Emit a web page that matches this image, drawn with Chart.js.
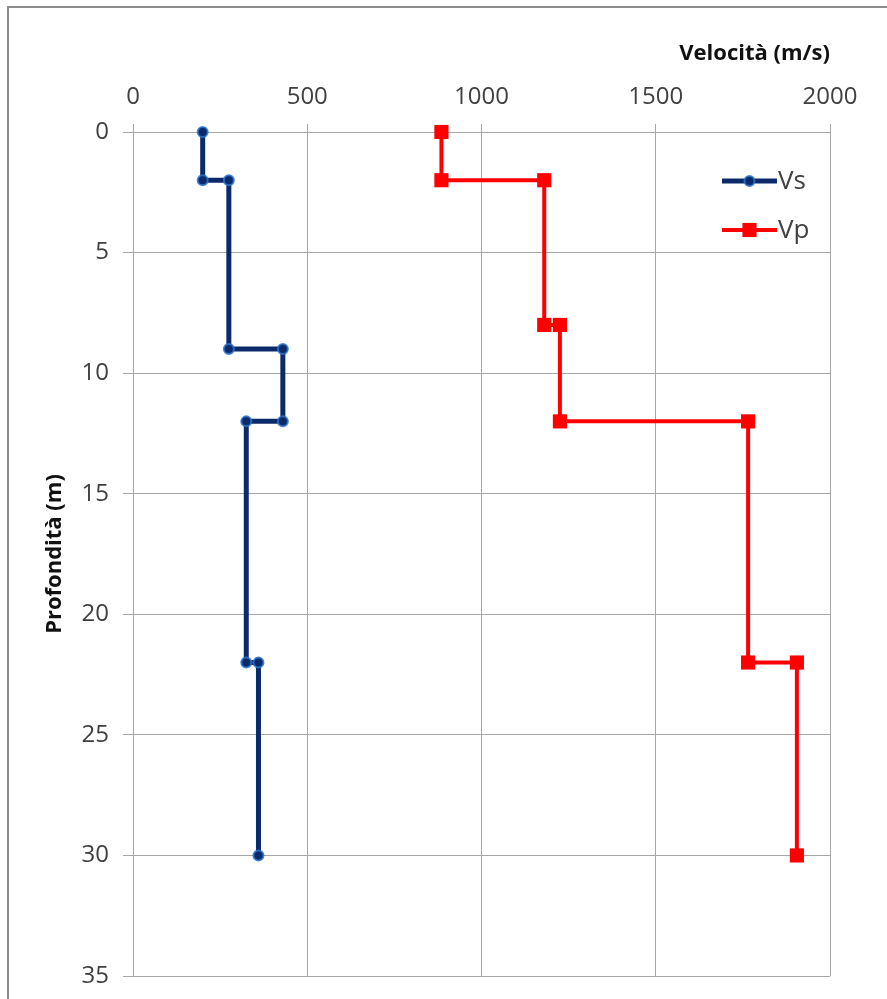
<!DOCTYPE html>
<html>
<head>
<meta charset="utf-8">
<script src="https://cdn.jsdelivr.net/npm/chart.js@4/dist/chart.umd.min.js"></script>
<style>
  html, body { margin: 0; padding: 0; background: #fff; }
  #wrap { position: relative; width: 887px; height: 999px; }
</style>
</head>
<body>
<div id="wrap"><canvas id="c" width="887" height="999"></canvas></div>
<script>
// ---- Data ----
const seriesNames = ['Vs', 'Vp'];
const vsDepth = [0, 2, 2, 9, 9, 12, 12, 22, 22, 30];
const vsVelocity = [200, 200, 275, 275, 430, 430, 325, 325, 360, 360];
const vpDepth = [0, 2, 2, 8, 8, 12, 12, 22, 22, 30];
const vpVelocity = [885, 885, 1180, 1180, 1225, 1225, 1765, 1765, 1905, 1905];
const xTickValues = [0, 500, 1000, 1500, 2000];
const yTickValues = [0, 5, 10, 15, 20, 25, 30, 35];
const xTitle = 'Velocità (m/s)';
const yTitle = 'Profondità (m)';

const toPoints = (xs, ys) => xs.map((x, i) => ({ x: x, y: ys[i] }));

const FONT = "'Open Sans', 'Liberation Sans', sans-serif";
const GRID = '#a6a6a6';
const TXT = '#404040';

const frame = {
  id: 'frame',
  beforeDraw(chart) {
    const ctx = chart.ctx;
    ctx.save();
    ctx.fillStyle = '#fff';
    ctx.fillRect(0, 0, chart.width, chart.height);
    ctx.strokeStyle = '#8c8c8c';
    ctx.lineWidth = 2;
    ctx.beginPath();
    ctx.moveTo(8, chart.height);
    ctx.lineTo(8, 7);
    ctx.lineTo(chart.width, 7);
    ctx.stroke();
    ctx.restore();
  }
};

const insideLegend = {
  id: 'insideLegend',
  afterDatasetsDraw(chart) {
    const ctx = chart.ctx;
    const x0 = 722, x1 = 777;
    const ys = [181, 230];
    ctx.save();
    chart.data.datasets.forEach((ds, i) => {
      const y = ys[i];
      ctx.strokeStyle = ds.borderColor;
      ctx.lineWidth = ds.borderWidth;
      ctx.beginPath();
      ctx.moveTo(x0, y);
      ctx.lineTo(x1, y);
      ctx.stroke();
      const cx = (x0 + x1) / 2;
      if (ds.pointStyle === 'rect') {
        const s = ds.pointRadius * Math.SQRT1_2;
        ctx.fillStyle = ds.pointBackgroundColor;
        ctx.fillRect(cx - s, y - s, 2 * s, 2 * s);
      } else {
        ctx.beginPath();
        ctx.arc(cx, y, ds.pointRadius, 0, Math.PI * 2);
        ctx.fillStyle = ds.pointBackgroundColor;
        ctx.fill();
        ctx.lineWidth = ds.pointBorderWidth;
        ctx.strokeStyle = ds.pointBorderColor;
        ctx.stroke();
      }
      ctx.fillStyle = TXT;
      ctx.font = '26px ' + FONT;
      ctx.textAlign = 'left';
      ctx.textBaseline = 'middle';
      ctx.fillText(ds.label, x1 + 1, y + 1);
    });
    ctx.restore();
  }
};

new Chart(document.getElementById('c'), {
  type: 'scatter',
  data: {
    datasets: [
      {
        label: seriesNames[0],
        data: toPoints(vsVelocity, vsDepth),
        showLine: true,
        clip: false,
        borderColor: '#0b2a6a',
        borderWidth: 5,
        pointStyle: 'circle',
        pointRadius: 5,
        pointBackgroundColor: '#0b2a6a',
        pointBorderColor: 'rgba(45,115,205,0.85)',
        pointBorderWidth: 2
      },
      {
        label: seriesNames[1],
        data: toPoints(vpVelocity, vpDepth),
        showLine: true,
        clip: false,
        borderColor: '#ff0000',
        borderWidth: 4,
        pointStyle: 'rect',
        pointRadius: 10,
        pointBackgroundColor: '#ff0000',
        pointBorderColor: '#ff0000',
        pointBorderWidth: 0
      }
    ]
  },
  options: {
    responsive: false,
    animation: false,
    layout: { padding: { left: 40, top: 39, right: 57, bottom: 23 } },
    plugins: {
      legend: { display: false },
      tooltip: { enabled: false }
    },
    scales: {
      x: {
        type: 'linear',
        position: 'top',
        min: 0, max: 2000,
        afterBuildTicks: s => { s.ticks = xTickValues.map(v => ({ value: v })); },
        afterFit: s => { s.height = 93; s.paddingLeft = 0; s.paddingRight = 0; },
        grid: { color: GRID, lineWidth: 1, tickLength: 8, drawTicks: true },
        border: { display: false },
        ticks: { color: TXT, font: { family: FONT, size: 24 }, padding: 12, maxRotation: 0,
                 callback: v => String(v) },
        title: {
          display: true, text: xTitle, align: 'end', color: '#111',
          font: { family: FONT, size: 22, weight: 'bold' }, padding: { top: 2, bottom: 0 }
        }
      },
      y: {
        type: 'linear',
        reverse: true,
        min: 0, max: 35,
        afterBuildTicks: s => { s.ticks = yTickValues.map(v => ({ value: v })); },
        afterFit: s => { s.width = 93; s.paddingTop = 0; s.paddingBottom = 0; },
        grid: { color: GRID, lineWidth: 1, tickLength: 10, drawTicks: true },
        border: { display: true, color: GRID, width: 1 },
        ticks: { color: TXT, font: { family: FONT, size: 24 }, padding: 14,
                 callback: v => String(v) },
        title: {
          display: true, text: yTitle, color: '#111',
          font: { family: FONT, size: 22, weight: 'bold' }, padding: { top: 2, bottom: 0 }
        }
      }
    }
  },
  plugins: [frame, insideLegend]
});
</script>
</body>
</html>
